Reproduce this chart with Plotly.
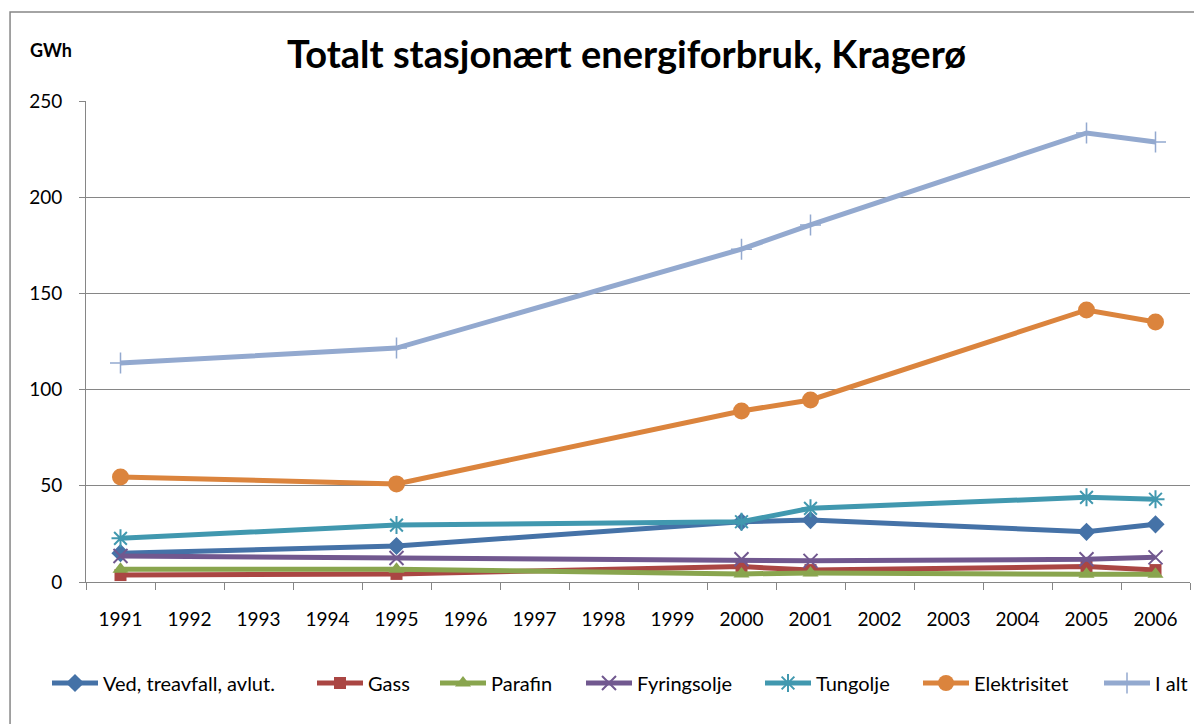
import plotly.graph_objects as go

years = [str(y) for y in range(1991, 2007)]
data_years = ["1991", "1995", "2000", "2001", "2005", "2006"]

ved = [15.0, 18.7, 31.3, 32.2, 26.1, 30.0]
gass = [3.6, 4.2, 8.0, 6.2, 8.0, 6.2]
parafin = [6.6, 6.6, 4.2, 4.7, 4.0, 4.0]
fyringsolje = [13.5, 12.5, 11.8, 11.0, 11.8, 12.8]
tungolje = [22.7, 29.6, 31.3, 38.3, 44.0, 43.0]
elektrisitet = [54.6, 51.0, 88.9, 94.6, 141.4, 135.1]
i_alt = [113.8, 121.6, 173.0, 185.6, 233.4, 228.7]

series = [
    ("Ved, treavfall, avlut.", ved, "#4572A7", "diamond", 14, 0),
    ("Gass", gass, "#AA4643", "square", 12, 0),
    ("Parafin", parafin, "#89A54E", "triangle-up", 14, 0),
    ("Fyringsolje", fyringsolje, "#71588F", "x-thin-open", 14, 2),
    ("Tungolje", tungolje, "#4198AF", "asterisk-open", 15, 2),
    ("Elektrisitet", elektrisitet, "#DB843D", "circle", 17, 0),
    ("I alt", i_alt, "#93A9CF", "cross-thin-open", 15, 1.5),
]
# left edge (page px) of each legend entry
legend_left_px = [52, 317, 440, 586, 765, 923, 1104]

def expand(vals):
    m = dict(zip(data_years, vals))
    return [m.get(y) for y in years]

W, H = 1194, 716
fig = go.Figure()
legend_layouts = {}
for i, (name, vals, color, sym, size, lw) in enumerate(series):
    lname = "legend" if i == 0 else f"legend{i + 1}"
    fig.add_trace(go.Scatter(
        x=years, y=expand(vals), name=name, mode="lines+markers",
        connectgaps=True, legend=lname,
        line=dict(color=color, width=5),
        marker=dict(symbol=sym, size=size, color=color,
                    line=dict(color=color, width=lw)),
    ))
    legend_layouts[lname] = dict(
        orientation="h", xref="container", x=(legend_left_px[i] - 13) / W,
        xanchor="left", y=-0.21, yanchor="middle",
        font=dict(size=20), itemwidth=46, bgcolor="rgba(0,0,0,0)")

FONT = "Lato, 'Open Sans', sans-serif"
fig.update_layout(
    width=W, height=H,
    margin=dict(l=78, r=12, t=93, b=142, autoexpand=False),
    paper_bgcolor="white", plot_bgcolor="white",
    font=dict(family=FONT, size=19, color="black"),
    showlegend=True,
    xaxis=dict(type="category", categoryorder="array", categoryarray=years,
               tickson="boundaries", ticks="outside", ticklen=7,
               tickcolor="#868686", showline=True, linecolor="#868686",
               linewidth=1, showgrid=False, tickfont=dict(size=19),
               ticklabelstandoff=20, range=[-0.5, 15.5]),
    yaxis=dict(range=[0, 250], dtick=50, ticks="outside", ticklen=6,
               tickcolor="#868686", showline=True, linecolor="#868686",
               gridcolor="#868686", gridwidth=1, zeroline=False,
               tickfont=dict(size=19), ticklabelstandoff=13),
    shapes=[dict(type="rect", xref="paper", yref="paper",
                 x0=-0.0688, x1=1.0085, y0=-0.5, y1=1.185,
                 line=dict(color="#868686", width=1.5), layer="below")],
    annotations=[
        dict(text="<b>Totalt stasjonært energiforbruk, Kragerø</b>",
             xref="paper", yref="paper", x=0.49, y=1.1,
             xanchor="center", yanchor="middle", showarrow=False,
             font=dict(size=38, color="black")),
        dict(text="<b>GWh</b>", xref="paper", yref="paper",
             x=-0.0317, y=1.105, xanchor="center", yanchor="middle",
             showarrow=False, font=dict(size=18)),
    ],
    **legend_layouts,
)

fig.write_html("out.html")
